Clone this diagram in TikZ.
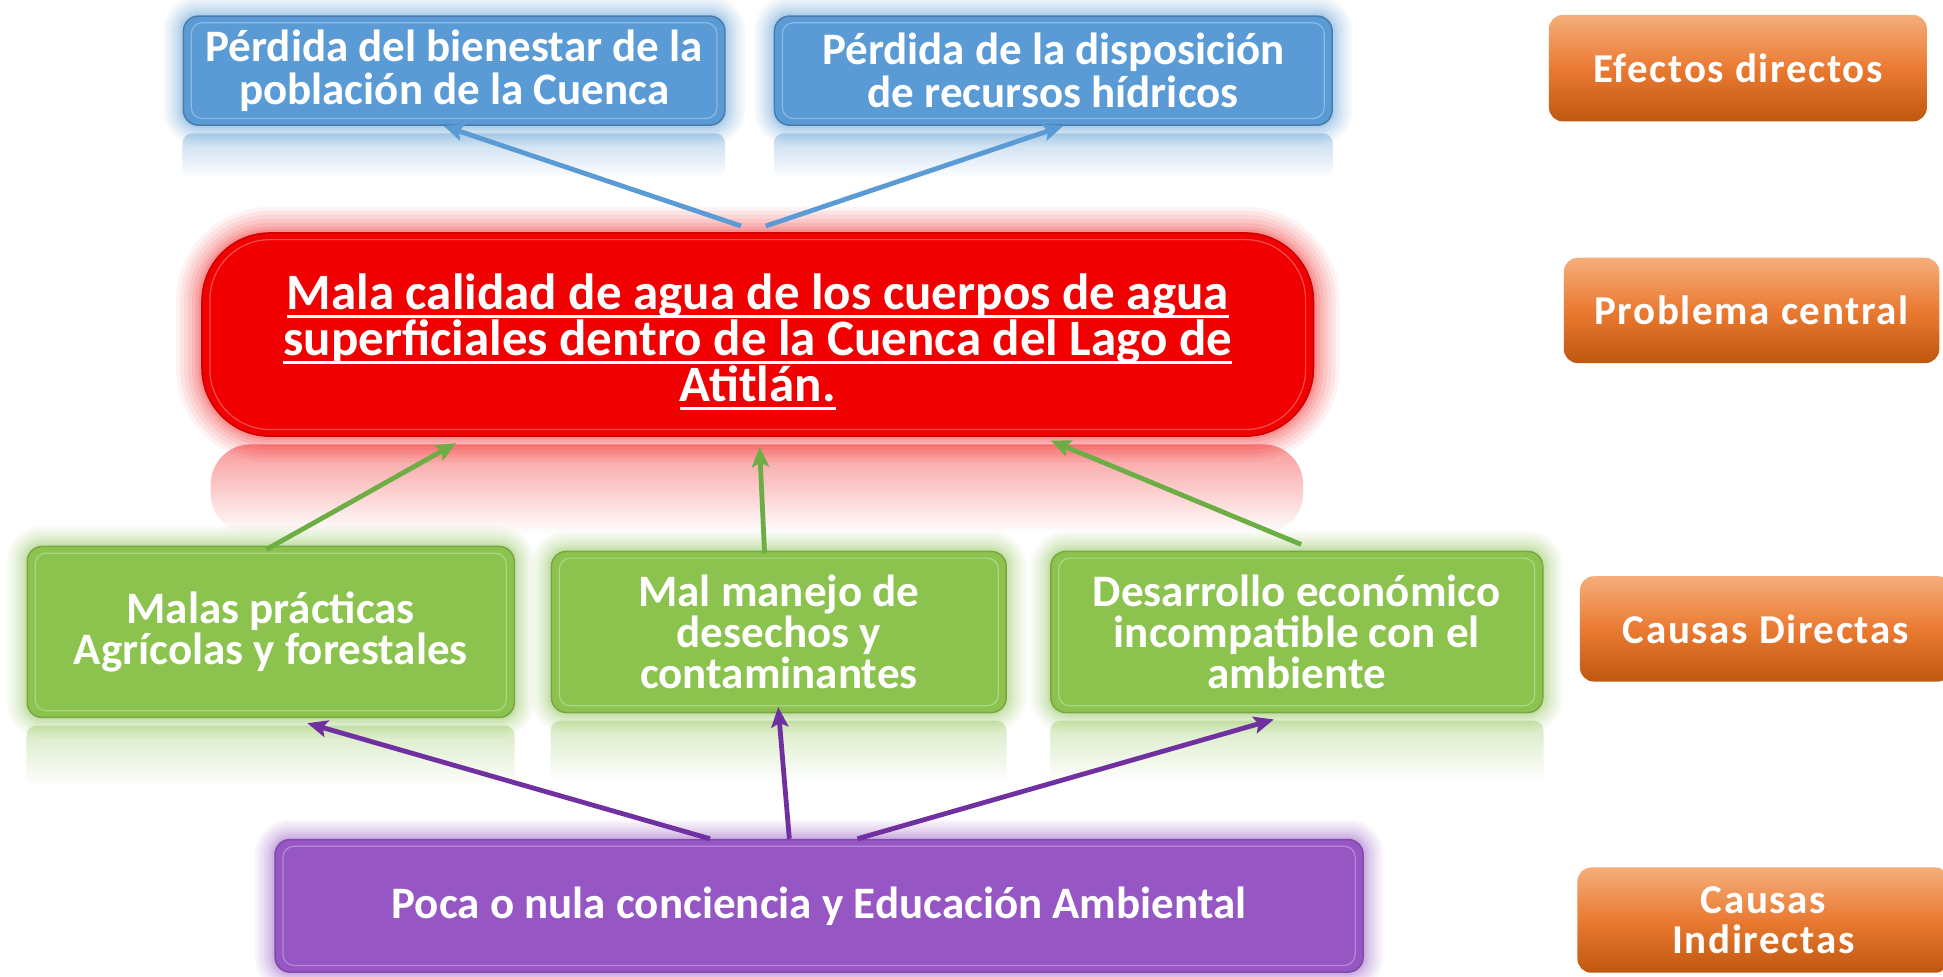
\documentclass[tikz,border=0pt]{standalone}
\usepackage{fontspec}
\setmainfont{Carlito}
\newfontfamily\orfont[LetterSpace=4]{Carlito}
\usetikzlibrary{calc,arrows.meta,fadings}
\definecolor{bluebox}{HTML}{5B9BD5}
\definecolor{redbox}{HTML}{F00000}
\definecolor{greenbox}{HTML}{8CC34F}
\definecolor{purplebox}{HTML}{9656C4}
\definecolor{ortop}{HTML}{F5AE7C}
\definecolor{ormid}{HTML}{EA7A32}
\definecolor{orbot}{HTML}{C0570F}
\definecolor{bluearrow}{HTML}{5B9BD5}
\definecolor{greenarrow}{HTML}{6CAE45}
\definecolor{purplearrow}{HTML}{7030A0}
\newcommand\PU[1]{#1*1.239pt}
\newcommand\ulred[1]{\leavevmode\setbox0\hbox{#1}\rlap{\rule[-8pt]{\wd0}{2.5pt}}\box0}
\newcommand\inframe[2]{\draw[white, opacity=0.3, line width=1.2pt, rounded corners=#2] ($(#1.north west)+(7,6)$) rectangle ($(#1.south east)+(-7,-6)$);}
\tikzset{
  glow/.style={preaction={draw=#1,line width=40pt,opacity=0.06},
               preaction={draw=#1,line width=34pt,opacity=0.06},
               preaction={draw=#1,line width=28pt,opacity=0.07},
               preaction={draw=#1,line width=22pt,opacity=0.08},
               preaction={draw=#1,line width=16pt,opacity=0.09},
               preaction={draw=#1,line width=11pt,opacity=0.1},
               preaction={draw=#1,line width=6pt,opacity=0.12}},
  bigglow/.style={preaction={draw=#1,line width=52pt,opacity=0.05},
               preaction={draw=#1,line width=44pt,opacity=0.055},
               preaction={draw=#1,line width=36pt,opacity=0.06},
               preaction={draw=#1,line width=28pt,opacity=0.07},
               preaction={draw=#1,line width=20pt,opacity=0.08},
               preaction={draw=#1,line width=13pt,opacity=0.09},
               preaction={draw=#1,line width=7pt,opacity=0.11}},
  cbox/.style={rounded corners=15pt, align=center, text=white, inner sep=0pt, line width=1.5pt},
  conn/.style={line width=4.8pt, -{Stealth[length=20pt,width=17pt,inset=4pt]}},
  orbox/.style={rounded corners=14pt, align=center, text=white, inner sep=0pt,
    top color=ortop, bottom color=orbot, middle color=ormid,
    font=\orfont\bfseries\fontsize{41pt}{40pt}\selectfont},
  bluefont/.style={font=\bfseries\fontsize{45pt}{43pt}\selectfont},
}
\begin{document}
\begin{tikzpicture}[x=1.239pt,y=-1.239pt]
\useasboundingbox (0,0) rectangle (1568,788);
\fill[white] (0,0) rectangle (1568,788);

% effects
\node[cbox, glow=bluebox, fill=bluebox, draw=bluebox!80!black, bluefont,
  minimum width=\PU{437}, minimum height=\PU{88}] (b1) at (366.5,57)
  {Pérdida del bienestar de la\\población de la Cuenca};
\node[cbox, glow=bluebox, fill=bluebox, draw=bluebox!80!black, bluefont,
  minimum width=\PU{450}, minimum height=\PU{88}] (b2) at (850,57)
  {Pérdida de la disposición\\de recursos hídricos};

% central problem
\node[cbox, rounded corners=68pt, bigglow=redbox, fill=redbox, draw=redbox!85!black,
  minimum width=\PU{897}, minimum height=\PU{164},
  font=\bfseries\fontsize{51pt}{46pt}\selectfont] (red) at (611.5,270)
  {\rule{0pt}{50pt}\ulred{Mala calidad de agua de los cuerpos de agua}\\
   \ulred{superficiales dentro de la Cuenca del Lago de}\\
   \ulred{Atitlán.}};

% direct causes
\node[cbox, glow=greenbox, fill=greenbox, draw=greenbox!85!black,
  font=\bfseries\fontsize{45pt}{41pt}\selectfont,
  minimum width=\PU{393}, minimum height=\PU{138}] (g1) at (218.5,510)
  {Malas prácticas\\Agrícolas y forestales};
\node[cbox, glow=greenbox, fill=greenbox, draw=greenbox!85!black,
  font=\bfseries\fontsize{45pt}{41pt}\selectfont,
  minimum width=\PU{367}, minimum height=\PU{130}] (g2) at (628.5,510)
  {Mal manejo de\\desechos y\\contaminantes};
\node[cbox, glow=greenbox, fill=greenbox, draw=greenbox!85!black,
  font=\bfseries\fontsize{45pt}{41pt}\selectfont,
  minimum width=\PU{397}, minimum height=\PU{130}] (g3) at (1046.5,510)
  {Desarrollo económico\\incompatible con el\\ambiente};

% indirect cause
\node[cbox, glow=purplebox, fill=purplebox, draw=purplebox!85!black,
  font=\bfseries\fontsize{45pt}{43pt}\selectfont,
  minimum width=\PU{878}, minimum height=\PU{107}] (pu) at (661,731)
  {Poca o nula conciencia y Educación Ambiental};

% level labels
\node[orbox, minimum width=\PU{305}, minimum height=\PU{86}] (o1) at (1402.5,55) {Efectos directos};
\node[orbox, minimum width=\PU{303}, minimum height=\PU{85}] (o2) at (1413.5,250.5) {Problema central};
\node[orbox, minimum width=\PU{300}, minimum height=\PU{85}] (o3) at (1425,507.5) {Causas Directas};
\node[orbox, minimum width=\PU{300}, minimum height=\PU{85}] (o4) at (1423,742.5) {Causas\\Indirectas};

% reflections
\fill[bluebox, opacity=0.38, path fading=south, rounded corners=10pt]
  ($(b1.south west)+(0,6)$) rectangle ($(b1.south east)+(0,42)$);
\fill[bluebox, opacity=0.38, path fading=south, rounded corners=10pt]
  ($(b2.south west)+(0,6)$) rectangle ($(b2.south east)+(0,42)$);
\fill[redbox, opacity=0.4, path fading=south, rounded corners=40pt]
  ($(red.south west)+(8,6)$) rectangle ($(red.south east)+(-8,78)$);
\fill[greenbox, opacity=0.35, path fading=south, rounded corners=10pt]
  ($(g1.south west)+(0,6)$) rectangle ($(g1.south east)+(0,55)$);
\fill[greenbox, opacity=0.35, path fading=south, rounded corners=10pt]
  ($(g2.south west)+(0,6)$) rectangle ($(g2.south east)+(0,55)$);
\fill[greenbox, opacity=0.35, path fading=south, rounded corners=10pt]
  ($(g3.south west)+(0,6)$) rectangle ($(g3.south east)+(0,55)$);

% inner frames
\inframe{b1}{11pt}
\inframe{b2}{11pt}
\inframe{red}{60pt}
\inframe{g1}{11pt}
\inframe{g2}{11pt}
\inframe{g3}{11pt}
\inframe{pu}{11pt}

% connectors
\draw[conn, bluearrow] ($(red.north)+(-13.5,-5)$) -- ($(b1.south)+(-8.5,0)$);
\draw[conn, bluearrow] ($(red.north)+(6.5,-5)$) -- ($(b2.south)+(8,0)$);
\draw[conn, greenarrow] ($(g1.north)+(-3.5,3)$) -- ($(red.south)+(-243.5,5)$);
\draw[conn, greenarrow] ($(g2.north)+(-11.5,2)$) -- ($(red.south)+(1.5,8)$);
\draw[conn, greenarrow] ($(g3.north)+(3.5,-5)$) -- ($(red.south)+(236.5,3)$);
\draw[conn, purplearrow] ($(pu.north)+(-88,0)$) -- ($(g1.south)+(29.5,4)$);
\draw[conn, purplearrow] ($(pu.north)+(-24,0)$) -- ($(g2.south)+(-0.5,-5)$);
\draw[conn, purplearrow] ($(pu.north)+(31,0)$) -- ($(g3.south)+(-18.5,5)$);
\end{tikzpicture}
\end{document}
